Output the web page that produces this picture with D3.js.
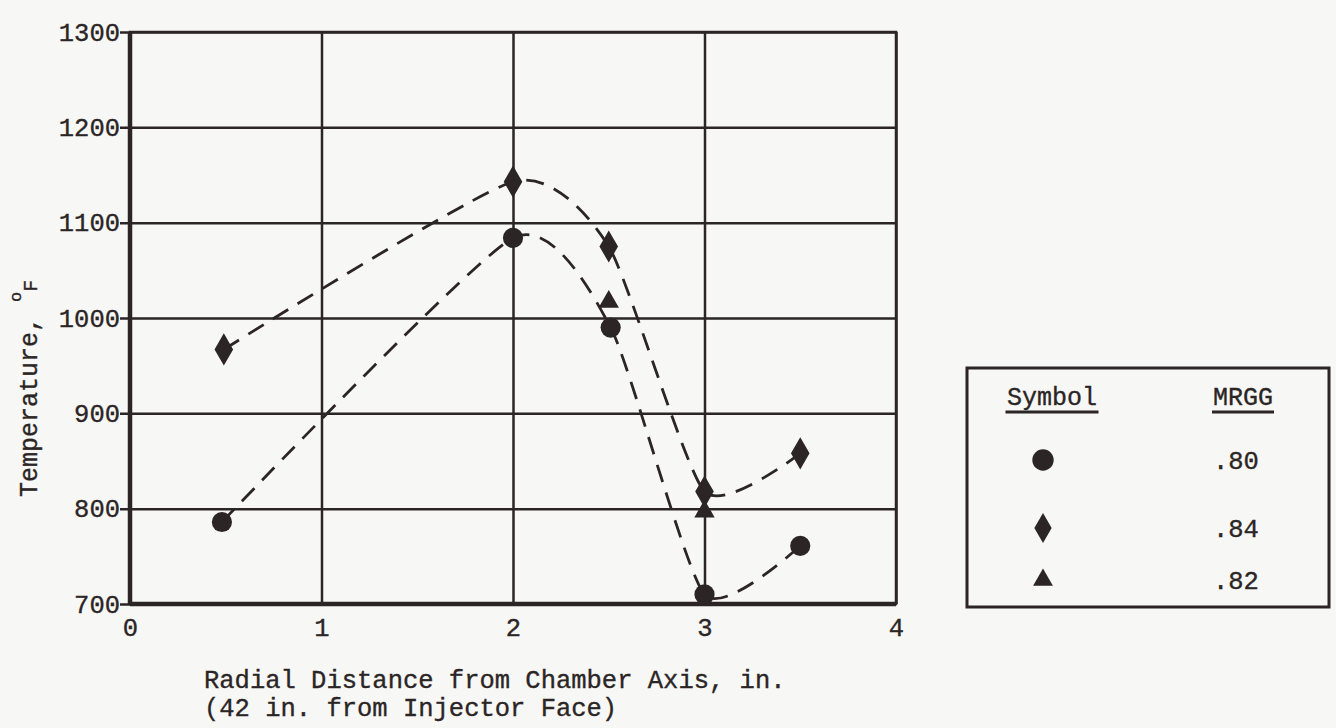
<!DOCTYPE html>
<html>
<head>
<meta charset="utf-8">
<script src="https://cdn.jsdelivr.net/npm/d3@7"></script>
<style>
  body { margin: 0; background: #f7f7f5; }
  text { font-family: "Liberation Mono", "DejaVu Sans Mono", monospace; fill: #2b2525; stroke: #2b2525; stroke-width: 0.35px; }
</style>
</head>
<body>
<script>

// tick values
const xTicks = [0, 1, 2, 3, 4];
const yTicks = [700, 800, 900, 1000, 1100, 1200, 1300];

// MRGG .80 (circles)
const circleX = [0.48, 2.0, 2.51, 3.0, 3.5];
const circleY = [786, 1084, 990, 710, 761];

// MRGG .84 (diamonds)
const diamondX = [0.49, 2.0, 2.5, 3.0, 3.5];
const diamondY = [967, 1143, 1075, 818, 858];

// MRGG .82 (triangles, no curve)
const triangleX = [2.5, 3.0];
const triangleY = [1017, 797];

// legend
const legendShapes = ['circle', 'diamond', 'triangle'];
const legendLabels = ['.80', '.84', '.82'];

const ink = '#2b2525';

let width = 1336,
    height = 728;

let margin = {
  top: 32,
  bottom: 124,
  left: 130,
  right: 440
}

let plotW = width - margin.left - margin.right,
    plotH = height - margin.top - margin.bottom;

let svg = d3.select('body')
            .append('svg')
            .attr('width', width)
            .attr('height', height)
            .style('background', '#f7f7f5')

//scales
let xScale = d3.scaleLinear()
              .domain([0, 4])
              .range([margin.left, margin.left + plotW])

let yScale = d3.scaleLinear()
              .domain([700, 1300])
              .range([margin.top + plotH, margin.top])

//axes, with the grid drawn as long ticks
let yAxis = svg.append('g')
              .attr('transform', `translate(${margin.left - 10}, 0)`)
              .call(d3.axisLeft(yScale)
                      .tickValues(yTicks)
                      .tickSize(-(plotW + 10))
                      .tickPadding(0)
                      .tickFormat(d3.format('d')))

let xAxis = svg.append('g')
              .attr('transform', `translate(0, ${margin.top + plotH})`)
              .call(d3.axisBottom(xScale)
                      .tickValues(xTicks)
                      .tickSize(-plotH)
                      .tickPadding(14)
                      .tickFormat(d3.format('d')))

svg.selectAll('.domain').remove()
svg.selectAll('.tick line')
   .attr('stroke', ink)
   .attr('stroke-width', 2.5)
svg.selectAll('.tick text')
   .style('font-size', '25.5px')
   .attr('fill', ink)

//frame: left and bottom heavier
svg.append('rect')
   .attr('x', xScale(0))
   .attr('y', yScale(1300))
   .attr('width', plotW)
   .attr('height', plotH)
   .attr('fill', 'none')
   .attr('stroke', ink)
   .attr('stroke-width', 2.5)

svg.append('line')
   .attr('x1', xScale(0)).attr('x2', xScale(0))
   .attr('y1', yScale(1300)).attr('y2', yScale(700))
   .attr('stroke', ink)
   .attr('stroke-width', 4.5)

svg.append('line')
   .attr('x1', xScale(0)).attr('x2', xScale(4))
   .attr('y1', yScale(700)).attr('y2', yScale(700))
   .attr('stroke', ink)
   .attr('stroke-width', 4.5)

//dashed curves
let line = d3.line()
            .x(d => xScale(d[0]))
            .y(d => yScale(d[1]))
            .curve(d3.curveCardinal.tension(0.4))

let curves = [d3.zip(circleX, circleY), d3.zip(diamondX, diamondY)];

svg.selectAll('.curve')
   .data(curves)
   .enter()
   .append('path')
   .attr('class', 'curve')
   .attr('fill', 'none')
   .attr('stroke', ink)
   .attr('stroke-width', 2.8)
   .attr('stroke-dasharray', '18,11')
   .attr('d', d => line(d))

//markers
let symbolPath = {
  circle: d3.symbol().type(d3.symbolCircle).size(320)(),
  diamond: d3.symbol().type(d3.symbolDiamond).size(300)(),
  triangle: d3.symbol().type(d3.symbolTriangle).size(180)()
}

function drawPoints(xs, ys, shape) {
  svg.append('g')
     .selectAll('path')
     .data(d3.zip(xs, ys))
     .enter()
     .append('path')
     .attr('d', symbolPath[shape])
     .attr('fill', ink)
     .attr('transform', d => `translate(${xScale(d[0])}, ${yScale(d[1])})`)
}

drawPoints(circleX, circleY, 'circle')
drawPoints(diamondX, diamondY, 'diamond')
drawPoints(triangleX, triangleY, 'triangle')

//axis titles
let yTitle = svg.append('text')
  .attr('transform', 'translate(37, 497) rotate(-90)')
  .style('font-size', '25px')
  .attr('fill', ink)

yTitle.append('tspan').text('Temperature, ')
yTitle.append('tspan').text('o').style('font-size', '17px').attr('dy', -16)
yTitle.append('tspan').text('F').style('font-size', '20px').attr('dy', 16)

svg.append('text')
   .attr('x', 204)
   .attr('y', 688)
   .style('font-size', '25.5px')
   .text('Radial Distance from Chamber Axis, in.')

svg.append('text')
   .attr('x', 204)
   .attr('y', 716)
   .style('font-size', '25.5px')
   .text('(42 in. from Injector Face)')

//legend
let legend = svg.append('g')
  .attr('class', 'legend')

legend.append('rect')
      .attr('x', 967)
      .attr('y', 368)
      .attr('width', 362)
      .attr('height', 239)
      .attr('fill', 'none')
      .attr('stroke', ink)
      .attr('stroke-width', 3)

let headers = [['Symbol', 1052], ['MRGG', 1243]];

headers.forEach(h => {
  legend.append('text')
    .attr('x', h[1])
    .attr('y', 405)
    .attr('text-anchor', 'middle')
    .style('font-size', '25px')
    .text(h[0]);
  let w = h[0].length * 15.5;
  legend.append('line')
    .attr('x1', h[1] - w / 2).attr('x2', h[1] + w / 2)
    .attr('y1', 412).attr('y2', 412)
    .attr('stroke', ink)
    .attr('stroke-width', 3);
});

legendShapes.forEach((s, i) => {
  let cy = [460, 528, 580][i];
  let g = legend.append('g')
                .attr('transform', `translate(0, ${cy})`);

  g.append('path')
   .attr('d', s === 'diamond'
        ? d3.symbol().type(d3.symbolDiamond).size(260)()
        : s === 'triangle'
          ? d3.symbol().type(d3.symbolTriangle).size(170)()
          : d3.symbol().type(d3.symbolCircle).size(360)())
   .attr('transform', 'translate(1043, 0)')
   .attr('fill', ink);

  g.append('text')
   .attr('x', 1213)
   .attr('y', 0)
   .attr('dy', '0.35em')
   .style('font-size', '25.5px')
   .text(legendLabels[i]);
});

</script>
</body>
</html>
